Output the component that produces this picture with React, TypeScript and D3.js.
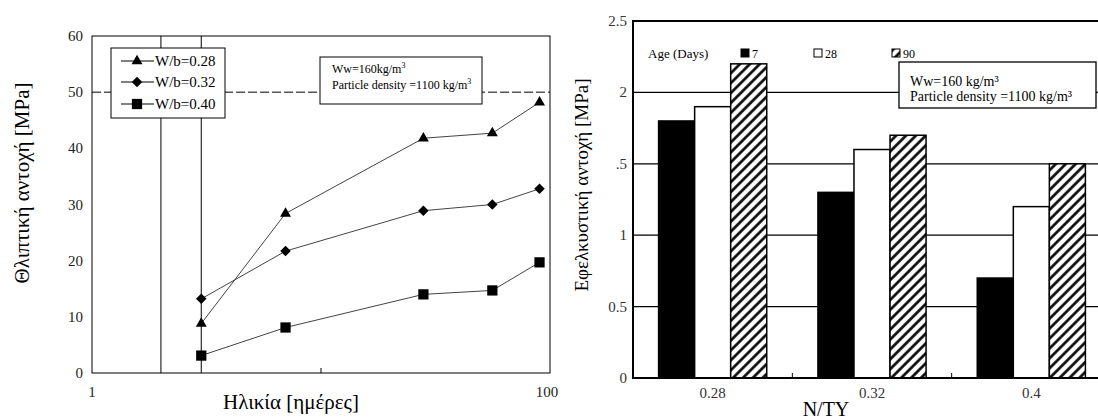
import React from 'react';
import * as d3 from 'd3';

// left chart: compressive strength vs age
const ages = [3, 7, 28, 56, 90];
const wb028 = [8.8, 28.4, 41.8, 42.7, 48.2];
const wb032 = [13.2, 21.7, 28.9, 30.0, 32.8];
const wb040 = [3.1, 8.1, 14.0, 14.7, 19.7];
const seriesNames = ['W/b=0.28', 'W/b=0.32', 'W/b=0.40'];
const leftYTicks = [0, 10, 20, 30, 40, 50, 60];
const leftXTicks = [1, 100];
const leftRefLines = [2, 3];

// right chart: tensile strength by N/TY
const ntyGroups = ['0.28', '0.32', '0.4'];
const ageDays = ['7', '28', '90'];
const age7 = [1.8, 1.3, 0.7];
const age28 = [1.9, 1.6, 1.2];
const age90 = [2.2, 1.7, 1.5];
const rightYTicks = [0, 0.5, 1, 1.5, 2, 2.5];
const rightYTickLabels = ['0', '0.5', '1', '.5', '2', '2.5'];

const font = '"Liberation Serif", "Times New Roman", serif';

const LeftChart = () => {
    const dims = {left: 92, right: 550, top: 36, bottom: 373};

    const x = d3.scaleLog().domain([1, 100]).range([dims.left, dims.right]);
    const y = d3.scaleLinear().domain([0, 60]).range([dims.bottom, dims.top]);

    const line = d3.line<[number, number]>()
        .x(d => x(d[0]))
        .y(d => y(d[1]));

    const series = [wb028, wb032, wb040].map((vals, i) => ({
        name: seriesNames[i],
        points: ages.map((a, j) => [a, vals[j]] as [number, number]),
        shape: i
    }));

    const marker = (shape: number) => {
        if (shape === 0) return d3.symbol().type(d3.symbolTriangle).size(52)();
        return d3.symbol().type(d3.symbolSquare).size(shape === 1 ? 55 : 105)();
    };
    const markerRotate = (shape: number) => (shape === 1 ? 'rotate(45)' : '');

    const legend = {x: 111, y: 48, w: 114, h: 70};

    return (
        <g>
            {leftRefLines.map(v => (
                <line key={v} x1={x(v)} x2={x(v)} y1={dims.top} y2={dims.bottom} stroke='#000' strokeWidth={1} />
            ))}
            <line x1={dims.left} x2={dims.right} y1={y(50)} y2={y(50)} stroke='#000' strokeWidth={1} strokeDasharray='9 3' />

            {series.map(s => (
                <path key={s.name} d={line(s.points) || ''} fill='none' stroke='#444' strokeWidth={1} />
            ))}
            {series.map(s => s.points.map((p, j) => (
                <path key={s.name + j} d={marker(s.shape) || ''}
                    transform={`translate(${x(p[0])},${y(p[1])}) ${markerRotate(s.shape)}`} fill='#000' />
            )))}

            <rect x={legend.x} y={legend.y} width={legend.w} height={legend.h} fill='#fff' stroke='#000' strokeWidth={1} />
            {series.map((s, i) => {
                const ly = [61, 82, 104][i];
                return (
                    <g key={s.name}>
                        <line x1={121} x2={154} y1={ly} y2={ly} stroke='#000' strokeWidth={1} />
                        <path d={marker(s.shape) || ''} transform={`translate(137,${ly}) ${markerRotate(s.shape)}`} fill='#000' />
                        <text x={155} y={ly + 5} fontSize={15} fontFamily={font}>{s.name}</text>
                    </g>
                );
            })}

            <rect x={320} y={57} width={162} height={47} fill='#fff' stroke='#000' strokeWidth={1} />
            <text x={332} y={73} fontSize={12} fontFamily={font}>Ww=160kg/m<tspan fontSize={8} dy={-5}>3</tspan></text>
            <text x={332} y={89} fontSize={12} fontFamily={font}>Particle density =1100 kg/m<tspan fontSize={8} dy={-5}>3</tspan></text>

            <rect x={dims.left} y={dims.top} width={dims.right - dims.left} height={dims.bottom - dims.top} fill='none' stroke='#000' strokeWidth={1} />
            <line x1={x(10)} x2={x(10)} y1={dims.bottom} y2={dims.bottom - 5} stroke='#000' />

            {leftYTicks.map(t => (
                <text key={t} x={83} y={y(t) + 5} textAnchor='end' fontSize={15} fontFamily={font} fill='#222'>{t}</text>
            ))}
            {leftXTicks.map(t => (
                <text key={t} x={x(t) - (t === 100 ? 3 : 0)} y={397} textAnchor='middle' fontSize={15} fontFamily={font} fill='#222'>{t}</text>
            ))}
            <text x={291} y={409} textAnchor='middle' fontSize={21} fontFamily={font}>Ηλικία [ημέρες]</text>
            <text transform='translate(29,183) rotate(-90)' textAnchor='middle' fontSize={21} fontFamily={font}>Θλιπτική αντοχή [MPa]</text>
        </g>
    );
};

const RightChart = () => {
    const dims = {left: 633, right: 1111, top: 21, bottom: 378};

    const x0 = d3.scaleBand().domain(ntyGroups).range([dims.left, dims.right]).paddingInner(0);
    const x1 = d3.scaleBand().domain(ageDays).range([0, x0.bandwidth()]).paddingInner(0).paddingOuter(0.71);
    const y = d3.scaleLinear().domain([0, 2.5]).range([dims.bottom, dims.top]);

    const values = [age7, age28, age90];
    const fills = ['#000', '#fff', 'url(#hatch)'];

    const bars = ntyGroups.flatMap((g, gi) => ageDays.map((a, ai) => ({
        key: g + a,
        x: (x0(g) || 0) + (x1(a) || 0),
        v: values[ai][gi],
        fill: fills[ai]
    })));

    const legendItems = [
        {label: '7', x: 741, fill: '#000'},
        {label: '28', x: 814, fill: '#fff'},
        {label: '90', x: 892, fill: 'url(#hatch)'}
    ];

    return (
        <g>
            {rightYTicks.filter(t => t > 0 && t < 2.5).map(t => (
                <line key={t} x1={dims.left} x2={dims.right} y1={y(t)} y2={y(t)} stroke='#000' strokeWidth={1.3} />
            ))}
            {bars.map(b => (
                <rect key={b.key} x={b.x} y={y(b.v)} width={x1.bandwidth()} height={dims.bottom - y(b.v)}
                    fill={b.fill} stroke='#000' strokeWidth={1.5} />
            ))}

            <text x={648} y={58} fontSize={13} fontFamily={font}>Age (Days)</text>
            {legendItems.map(l => (
                <g key={l.label}>
                    <rect x={l.x} y={49} width={8} height={8} fill={l.fill} stroke='#000' strokeWidth={1} />
                    <text x={l.x + 11} y={58} fontSize={12} fontFamily={font}>{l.label}</text>
                </g>
            ))}

            <rect x={899} y={62} width={197} height={46} fill='#fff' stroke='#000' strokeWidth={1.3} />
            <text x={910} y={86} fontSize={14} fontFamily={font}>Ww=160 kg/m³</text>
            <text x={910} y={101} fontSize={14} fontFamily={font}>Particle density =1100 kg/m³</text>

            <rect x={dims.left} y={dims.top} width={dims.right - dims.left} height={dims.bottom - dims.top} fill='none' stroke='#000' strokeWidth={2} />
            {ntyGroups.slice(1).map(g => (
                <line key={g} x1={x0(g)} x2={x0(g)} y1={dims.bottom} y2={dims.bottom - 5} stroke='#000' strokeWidth={1} />
            ))}

            {rightYTicks.map((t, i) => (
                <text key={t} x={627} y={y(t) + 5} textAnchor='end' fontSize={15} fontFamily={font} fill='#333'>{rightYTickLabels[i]}</text>
            ))}
            {ntyGroups.map(g => (
                <text key={g} x={(x0(g) || 0) + x0.bandwidth() / 2} y={398} textAnchor='middle' fontSize={15} fontFamily={font} fill='#333'>{g}</text>
            ))}
            <text x={826} y={416} textAnchor='middle' fontSize={20} fontFamily={font}>N/TY</text>
            <text transform='translate(588,185) rotate(-90)' textAnchor='middle' fontSize={19} fontFamily={font}>Εφελκυστική αντοχή [MPa]</text>
        </g>
    );
};

const App = () => {
    return (
        <svg width={1098} height={420} style={{position: 'absolute', left: 0, top: 0, background: '#fff'}}>
            <defs>
                <pattern id='hatch' patternUnits='userSpaceOnUse' width={7} height={7} patternTransform='rotate(45)'>
                    <rect width={7} height={7} fill='#fff' />
                    <line x1={1.5} x2={1.5} y1={0} y2={7} stroke='#000' strokeWidth={2.6} />
                </pattern>
            </defs>
            <rect width={1098} height={420} fill='#fff' />
            <LeftChart />
            <RightChart />
        </svg>
    );
};

export default App;
